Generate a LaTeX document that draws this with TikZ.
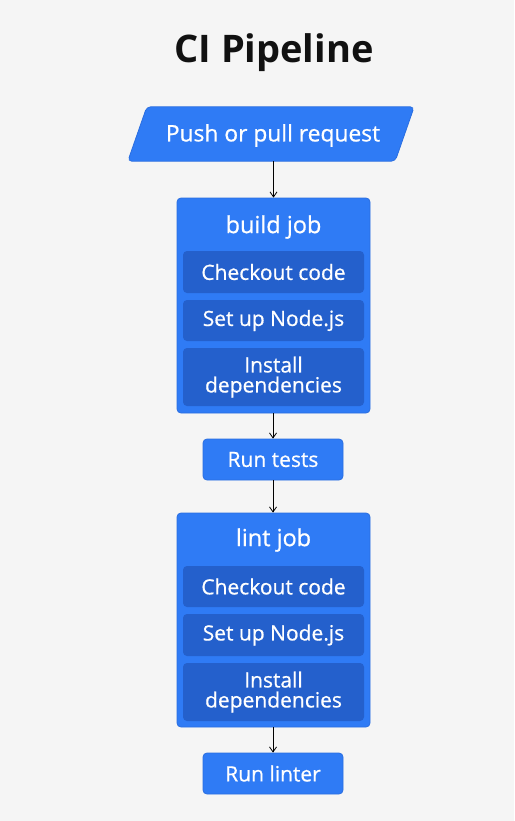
\documentclass[tikz,border=0pt]{standalone}
\usepackage{fontspec}
\setmainfont{Open Sans}[UprightFeatures={FakeBold=0.7}]
\usetikzlibrary{arrows.meta}
\definecolor{bg}{HTML}{F5F5F5}
\definecolor{ink}{HTML}{111111}
\definecolor{jobblue}{HTML}{2F7BF5}
\definecolor{jobedge}{HTML}{2A6EE0}
\definecolor{stepblue}{HTML}{2460CC}
\tikzset{
  job/.style={fill=jobblue, draw=jobedge, line width=0.8pt, rounded corners=4pt, minimum width=193pt, inner sep=0pt},
  stepbox/.style={fill=stepblue, rounded corners=4pt, minimum width=181pt, inner sep=0pt, text=white, font=\fontsize{21}{20}\selectfont, align=center},
  runbox/.style={fill=jobblue, draw=jobedge, line width=0.8pt, rounded corners=4pt, minimum width=140pt, minimum height=41pt, inner sep=0pt, text=white, font=\fontsize{21}{20}\selectfont},
  jobtitle/.style={text=white, font=\fontsize{23.5}{24}\selectfont, inner sep=0pt},
  flow/.style={draw=black, line width=0.8pt, -{Straight Barb[length=5pt,width=7pt]}}
}
\begin{document}
\begin{tikzpicture}[x=1pt,y=-1pt]
\fill[bg] (0,0) rectangle (514,821);
\useasboundingbox (0,0) rectangle (514,821);
% title
\node[font=\fontsize{38}{38}\selectfont\bfseries, text=ink, inner sep=0pt, anchor=base] (title) at (274,63) {CI Pipeline};
% trigger parallelogram
\node[minimum width=267pt, minimum height=54pt, inner sep=0pt] (push) at (271,134) {};
\fill[jobblue, draw=jobedge, line width=0.8pt, rounded corners=4pt]
  ([xshift=9.5pt]push.north west) -- ([xshift=9.5pt]push.north east) --
  ([xshift=-9.5pt]push.south east) -- ([xshift=-9.5pt]push.south west) -- cycle;
\node[text=white, font=\fontsize{22.8}{22}\selectfont, inner sep=0pt] (pushtext) at (273,135.5) {Push or pull request};
% build job
\node[job, minimum height=215pt] (build) at (273.5,305.5) {};
\node[jobtitle] (buildtitle) at (273.5,227) {build job};
\node[stepbox, minimum height=42pt] (b1) at (273.5,272) {Checkout code};
\node[stepbox, minimum height=41pt] (b2) at (273.5,320.5) {Set up Node.js};
\node[stepbox, minimum height=58pt] (b3) at (273.5,377) {Install\\dependencies};
% run tests
\node[runbox] (tests) at (273,459.5) {Run tests};
% lint job
\node[job, minimum height=214pt] (lint) at (273.5,620) {};
\node[jobtitle] (linttitle) at (273.5,540) {lint job};
\node[stepbox, minimum height=41pt] (l1) at (273.5,586.5) {Checkout code};
\node[stepbox, minimum height=42pt] (l2) at (273.5,635) {Set up Node.js};
\node[stepbox, minimum height=58pt] (l3) at (273.5,692) {Install\\dependencies};
% run linter
\node[runbox] (linter) at (273,773.5) {Run linter};
% connectors
\draw[flow] (push.south -| build.north) -- (build.north);
\draw[flow] (build.south -| tests.north) -- (tests.north);
\draw[flow] (tests.south) -- (tests.south |- lint.north);
\draw[flow] (lint.south -| linter.north) -- (linter.north);
\end{tikzpicture}
\end{document}
